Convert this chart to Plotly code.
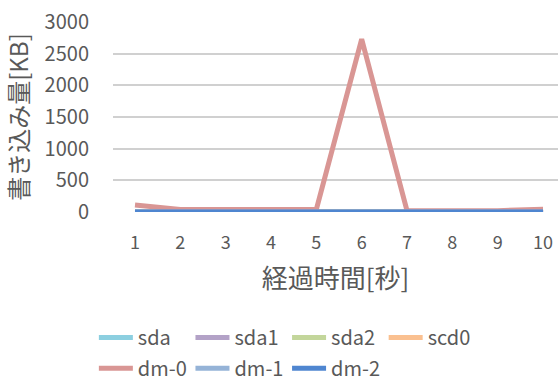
import plotly.graph_objects as go

seconds = [1, 2, 3, 4, 5, 6, 7, 8, 9, 10]
series_names = ["sda", "sda1", "sda2", "scd0", "dm-0", "dm-1", "dm-2"]
sda = [0, 0, 0, 0, 0, 0, 0, 0, 0, 0]
sda1 = [0, 0, 0, 0, 0, 0, 0, 0, 0, 0]
sda2 = [0, 0, 0, 0, 0, 0, 0, 0, 0, 0]
scd0 = [0, 0, 0, 0, 0, 0, 0, 0, 0, 0]
dm0 = [110, 40, 40, 40, 40, 2730, 20, 20, 20, 45]
dm1 = [0, 0, 0, 0, 0, 0, 0, 0, 0, 0]
dm2 = [0, 0, 0, 0, 0, 0, 0, 0, 0, 0]
y_ticks = [0, 500, 1000, 1500, 2000, 2500, 3000]

colors = ["#8ccfe0", "#b3a2c7", "#c3d69b", "#fac090", "#d99694", "#95b3d7", "#4f86d0"]
values = [sda, sda1, sda2, scd0, dm0, dm1, dm2]
legend_rows = ["legend", "legend", "legend", "legend", "legend2", "legend2", "legend2"]

fig = go.Figure()
for name, vals, col, lg in zip(series_names, values, colors, legend_rows):
    fig.add_trace(go.Scatter(x=seconds, y=vals, name=name, mode="lines",
                             line=dict(color=col, width=5), legend=lg))

font_family = "Noto Sans CJK JP, Noto Sans, sans-serif"
legend_common = dict(
    orientation="h", xanchor="left",
    entrywidth=47.6, entrywidthmode="pixels", font=dict(size=20),
    itemwidth=34, bgcolor="rgba(0,0,0,0)", borderwidth=0,
)
fig.update_layout(
    width=558, height=388,
    margin=dict(l=113, r=0, t=22, b=176, autoexpand=False),
    paper_bgcolor="white", plot_bgcolor="white",
    font=dict(family=font_family, color="#595959", size=17),
    xaxis=dict(
        range=[0.515, 10.33], tickvals=seconds, ticks="", showgrid=False,
        zeroline=False, showline=False, tickfont=dict(size=18),
        ticklabelstandoff=18,
        title=dict(text="経過時間[秒]", font=dict(size=26), standoff=16),
    ),
    yaxis=dict(
        range=[0, 3000], tickvals=y_ticks, showgrid=True, gridcolor="#d0d0d0",
        gridwidth=1.5, zeroline=False, showline=False, ticks="",
        tickfont=dict(size=20), ticklabelstandoff=23,
        title=dict(text="書き込み量[KB]", font=dict(size=24), standoff=14),
    ),
    legend=dict(x=-0.043, y=-0.66, yanchor="middle", **legend_common),
    legend2=dict(x=-0.043, y=-0.925, yanchor="bottom", **legend_common),
    showlegend=True,
)

fig.write_html("out.html")
